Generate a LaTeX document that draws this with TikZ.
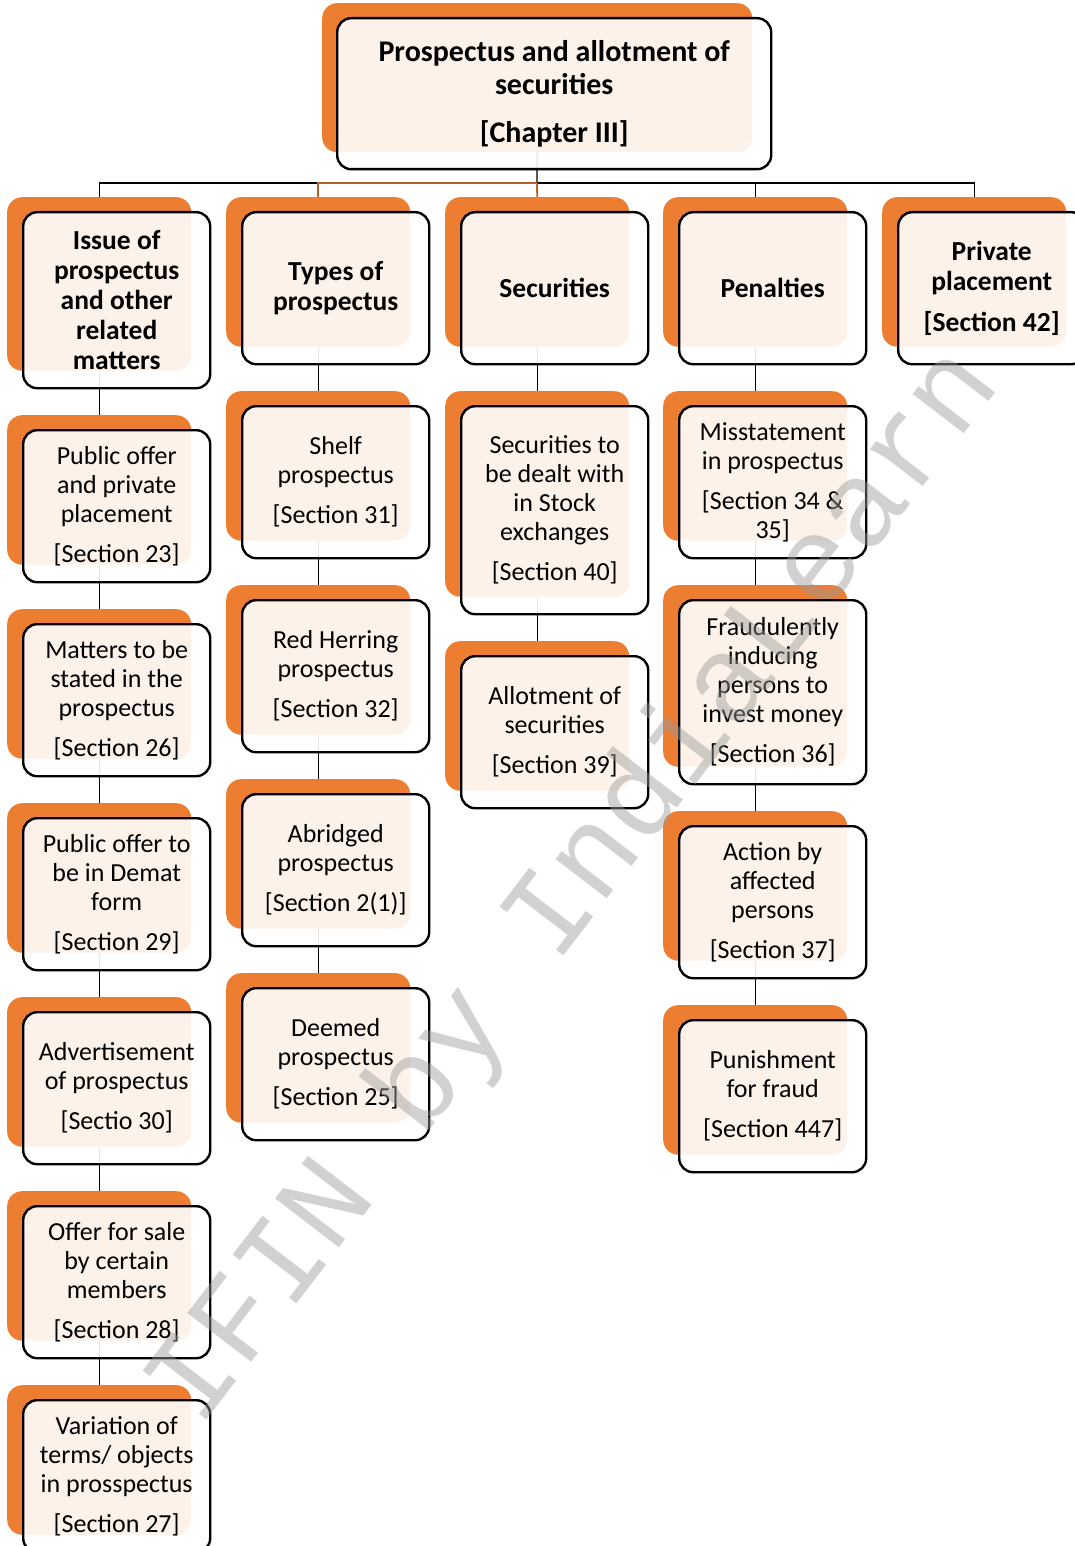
\documentclass[tikz,border=0pt]{standalone}
\usepackage{fontspec}
\setmainfont{Carlito}
\newfontfamily\wmfont{Liberation Mono}

\pgfdeclarelayer{links}
\pgfsetlayers{links,main}

\definecolor{accent}{HTML}{ED7D31}
\definecolor{linkorange}{HTML}{B8612A}
\definecolor{wmgray}{HTML}{9A9A9A}

\tikzset{
  shadebox/.style={fill=accent, rounded corners=15pt, inner sep=0pt,
    minimum width=184pt, anchor=north west},
  card/.style={draw=black, line width=2.4pt, fill=white, fill opacity=0.9,
    text opacity=1, rounded corners=14pt, inner sep=0pt, minimum width=187pt,
    anchor=north west, align=center, font=\fontsize{26}{29}\selectfont},
  head/.style={font=\fontsize{27.5}{30}\selectfont\bfseries},
  link/.style={line width=1.3pt, draw=black},
  olink/.style={line width=1.8pt, draw=linkorange},
}

% #1 extra style, #2 name, #3 left, #4 top, #5 height, #6 text
\newcommand\cardpair[6][]{%
  \node[shadebox, minimum height={(#5-2.5)*1pt}] (#2o) at (#3-15,#4-14) {};
  \node[card, minimum height={#5*1pt}, #1] (#2) at (#3,#4) {#6};
}

\begin{document}
\begin{tikzpicture}[x=1pt, y=-1pt]
\useasboundingbox (0,0) rectangle (1075,1546);
\clip (0,0) rectangle (1075,1546);

% root
\node[shadebox, minimum width=430pt, minimum height=149pt] (topo) at (322,3) {};
\node[card, minimum width=434pt, minimum height=151pt,
      font=\fontsize{30}{33}\selectfont\bfseries] (top) at (336,17)
  {Prospectus and allotment of\\securities\\[15pt][Chapter III]};

% first column
\cardpair[head]{a1}{22}{211}{176}{Issue of\\prospectus\\and other\\related\\matters}
\cardpair{a2}{22}{429}{152}{Public offer\\and private\\placement\\[11pt][Section 23]}
\cardpair{a3}{22}{623}{152}{Matters to be\\stated in the\\prospectus\\[11pt][Section 26]}
\cardpair{a4}{22}{817}{152}{Public offer to\\be in Demat\\form\\[11pt][Section 29]}
\cardpair{a5}{22}{1011}{152}{Advertisement\\of prospectus\\[11pt][Sectio 30]}
\cardpair{a6}{22}{1205}{152}{Offer for sale\\by certain\\members\\[11pt][Section 28]}
\cardpair{a7}{22}{1399}{152}{Variation of\\terms/ objects\\in prosspectus\\[11pt][Section 27]}

% second column
\cardpair[head]{b1}{241}{211}{152}{Types of\\prospectus}
\cardpair{b2}{241}{405}{152}{Shelf\\prospectus\\[11pt][Section 31]}
\cardpair{b3}{241}{599}{152}{Red Herring\\prospectus\\[11pt][Section 32]}
\cardpair{b4}{241}{793}{152}{Abridged\\prospectus\\[11pt][Section 2(1)]}
\cardpair{b5}{241}{987}{152}{Deemed\\prospectus\\[11pt][Section 25]}

% third column
\cardpair[head]{c1}{460}{211}{152}{Securities}
\cardpair{c2}{460}{405}{208}{Securities to\\be dealt with\\in Stock\\exchanges\\[11pt][Section 40]}
\cardpair{c3}{460}{655}{152}{Allotment of\\securities\\[11pt][Section 39]}

% fourth column
\cardpair[head]{d1}{678}{211}{152}{Penalties}
\cardpair{d2}{678}{405}{152}{Misstatement\\in prospectus\\[11pt][Section 34 \&\\35]}
\cardpair{d3}{678}{599}{184}{Fraudulently\\inducing\\persons to\\invest money\\[11pt][Section 36]}
\cardpair{d4}{678}{825}{152}{Action by\\affected\\persons\\[11pt][Section 37]}
\cardpair{d5}{678}{1019}{152}{Punishment\\for fraud\\[11pt][Section 447]}

% fifth column
\cardpair[head]{e1}{897}{211}{152}{Private\\placement\\[11pt][Section 42]}

% connectors, kept beneath the boxes
\begin{pgfonlayer}{links}
  \coordinate (bar) at (537,183);
  \draw[link] (topo.south) -- (bar);
  \draw[link] (bar) -| (a1o.north);
  \draw[link] (bar) -| (d1o.north);
  \draw[link] (bar) -| (e1o.north);
  \draw[olink] (bar) -| (b1o.north);
  \draw[olink] (bar) -- (c1o.north);
  \foreach \u/\v in {a1/a2,a2/a3,a3/a4,a4/a5,a5/a6,a6/a7,
                     b1/b2,b2/b3,b3/b4,b4/b5,
                     c1/c2,c2/c3,
                     d1/d2,d2/d3,d3/d4,d4/d5}
    \draw[link] (\u o.south) -- (\v o.north);
\end{pgfonlayer}

% watermark, translucent so the labels stay legible beneath it
\node[rotate=52.5, text=wmgray, text opacity=0.45,
      font=\wmfont\fontsize{122}{122}\selectfont] (mark) at (576,888)
  {IFIN by IndiaLearn};
\end{tikzpicture}
\end{document}
